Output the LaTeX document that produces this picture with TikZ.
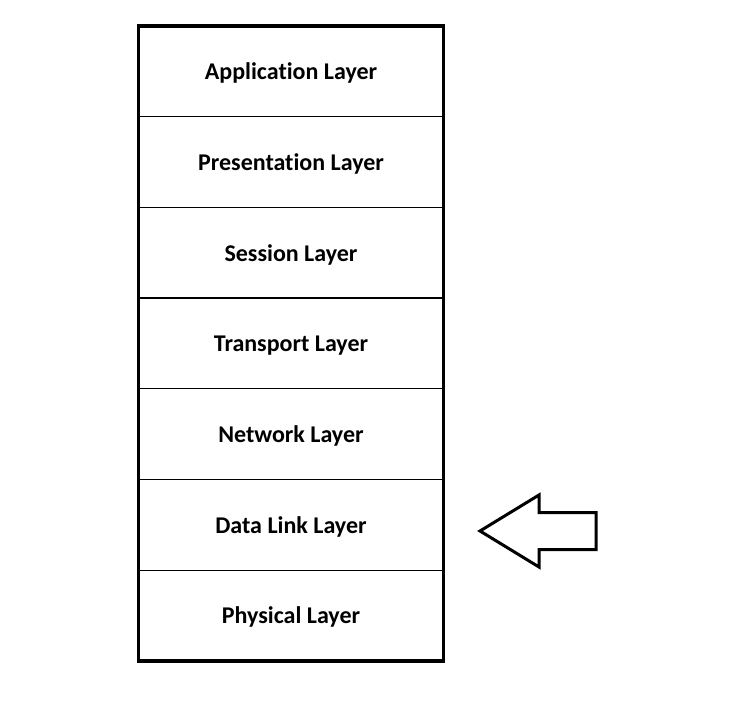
\documentclass[tikz,border=0pt]{standalone}
\usepackage{fontspec}
\setmainfont{Carlito}[RawFeature={-liga;-clig;-dlig}]
\begin{document}
\begin{tikzpicture}[x=1pt,y=-1pt,
  layer/.style={draw=black, line width=1.3pt, rectangle, minimum width=305pt, minimum height=90.7pt, inner sep=0pt, outer sep=0pt, text depth=0pt, font=\fontsize{24}{27}\selectfont\bfseries, anchor=north},
  frame/.style={draw=black, line width=3.5pt},
  blockarrow/.style={draw=black, line width=3pt, fill=white, line join=miter}]
\useasboundingbox (0,0) rectangle (739,708);
\fill[white] (0,0) rectangle (739,708);
\node[layer] (L7) at (291,26) {Application Layer};
\node[layer, anchor=north] (L6) at (L7.south) {Presentation Layer};
\node[layer, anchor=north] (L5) at (L6.south) {Session Layer};
\node[layer, anchor=north] (L4) at (L5.south) {Transport Layer};
\node[layer, anchor=north] (L3) at (L4.south) {Network Layer};
\node[layer, anchor=north] (L2) at (L3.south) {Data Link Layer};
\node[layer, anchor=north] (L1) at (L2.south) {Physical Layer};
\draw[frame] (L7.north west) rectangle (L1.south east);
\draw[blockarrow] (480,531) -- (539,495) -- (539,512.5) -- (596,512.5) -- (596,549.5) -- (539,549.5) -- (539,567) -- cycle;
\end{tikzpicture}
\end{document}
